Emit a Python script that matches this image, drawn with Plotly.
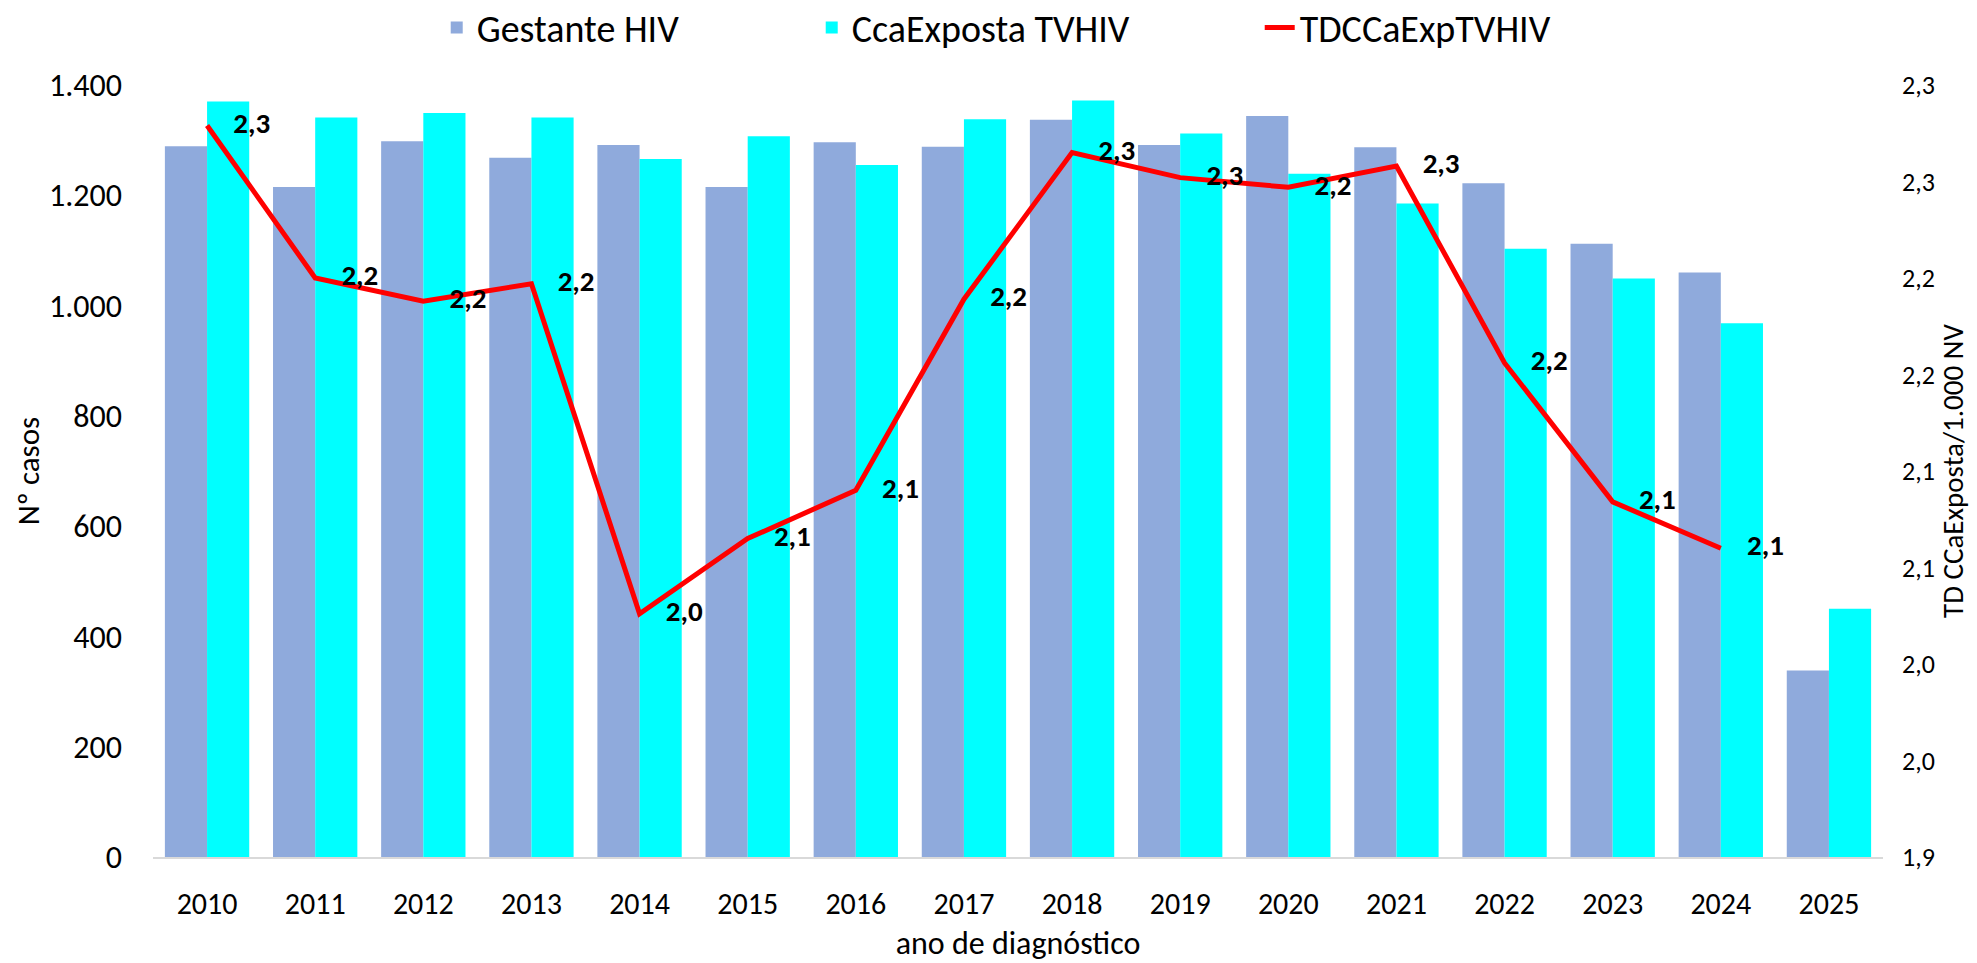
import plotly.graph_objects as go

# ---- data ----
years = ["2010", "2011", "2012", "2013", "2014", "2015", "2016", "2017",
         "2018", "2019", "2020", "2021", "2022", "2023", "2024", "2025"]
gestante_hiv = [1289, 1215, 1298, 1268, 1291, 1215, 1296, 1288,
                1337, 1291, 1344, 1287, 1222, 1112, 1060, 338]
cca_exposta = [1370, 1341, 1349, 1341, 1266, 1307, 1255, 1338,
               1372, 1312, 1239, 1185, 1103, 1049, 968, 450]
td_years = ["2010", "2011", "2012", "2013", "2014", "2015", "2016", "2017",
            "2018", "2019", "2020", "2021", "2022", "2023", "2024"]
td_rate = [2.279, 2.200, 2.188, 2.197, 2.026, 2.065, 2.090, 2.189,
           2.265, 2.252, 2.247, 2.258, 2.156, 2.084, 2.060]
right_tickvals = [1.90, 1.95, 2.00, 2.05, 2.10, 2.15, 2.20, 2.25, 2.30]
right_ticktext = ["1,9", "2,0", "2,0", "2,1", "2,1", "2,2", "2,2", "2,3", "2,3"]

td_labels = ["\u00a0\u00a0\u00a0\u00a0" + f"{v:.1f}".replace(".", ",") for v in td_rate]

FONT = "Carlito, Lato, sans-serif"

fig = go.Figure()
fig.add_trace(go.Bar(x=years, y=gestante_hiv, name="Gestante HIV",
                     marker=dict(color="#8FAADC", line=dict(width=0)),
                     legendwidth=330))
fig.add_trace(go.Bar(x=years, y=cca_exposta, name="CcaExposta TVHIV",
                     marker=dict(color="#00FFFF", line=dict(width=0)),
                     legendwidth=403))
fig.add_trace(go.Scatter(x=td_years, y=td_rate, name="TDCCaExpTVHIV", yaxis="y2",
                         mode="lines+text",
                         line=dict(color="#FF0000", width=5),
                         text=td_labels, textposition="middle right",
                         textfont=dict(family=FONT, size=29, color="black", weight="bold")))

fig.update_layout(
    width=1977, height=963,
    margin=dict(l=153, r=94, t=85, b=106, autoexpand=False),
    plot_bgcolor="white", paper_bgcolor="white",
    barmode="group", bargap=0.22, bargroupgap=0,
    separators=",.",
    font=dict(family=FONT, color="black"),
    showlegend=True,
    legend=dict(orientation="h", x=0.164, xanchor="left", y=1.074, yanchor="middle",
                font=dict(family=FONT, size=38, color="black"),
                bgcolor="rgba(0,0,0,0)", traceorder="normal"),
    xaxis=dict(type="category", range=[-0.5, 15.5], showline=True,
               linecolor="#D9D9D9", linewidth=2,
               showgrid=False, ticks="", tickfont=dict(size=30), ticklabelstandoff=19,
               title=dict(text="ano de diagnóstico", font=dict(size=32), standoff=18),
               automargin=False),
    yaxis=dict(range=[0, 1400], dtick=200, tickformat=",d", showgrid=False,
               zeroline=False, showline=False, ticks="", tickfont=dict(size=32),
               ticklabelstandoff=30,
               title=dict(text="Nº casos", font=dict(size=31), standoff=0),
               automargin=False),
    yaxis2=dict(overlaying="y", side="right", range=[1.9, 2.3],
                tickmode="array", tickvals=right_tickvals, ticktext=right_ticktext,
                showgrid=False, zeroline=False, showline=False, ticks="",
                tickfont=dict(size=26), ticklabelstandoff=18,
                title=dict(text="TD CCaExposta/1.000 NV", font=dict(size=29), standoff=8),
                automargin=False),
)

fig.write_html("out.html", config={"displayModeBar": False},
               post_script="document.body.style.margin='0';")
